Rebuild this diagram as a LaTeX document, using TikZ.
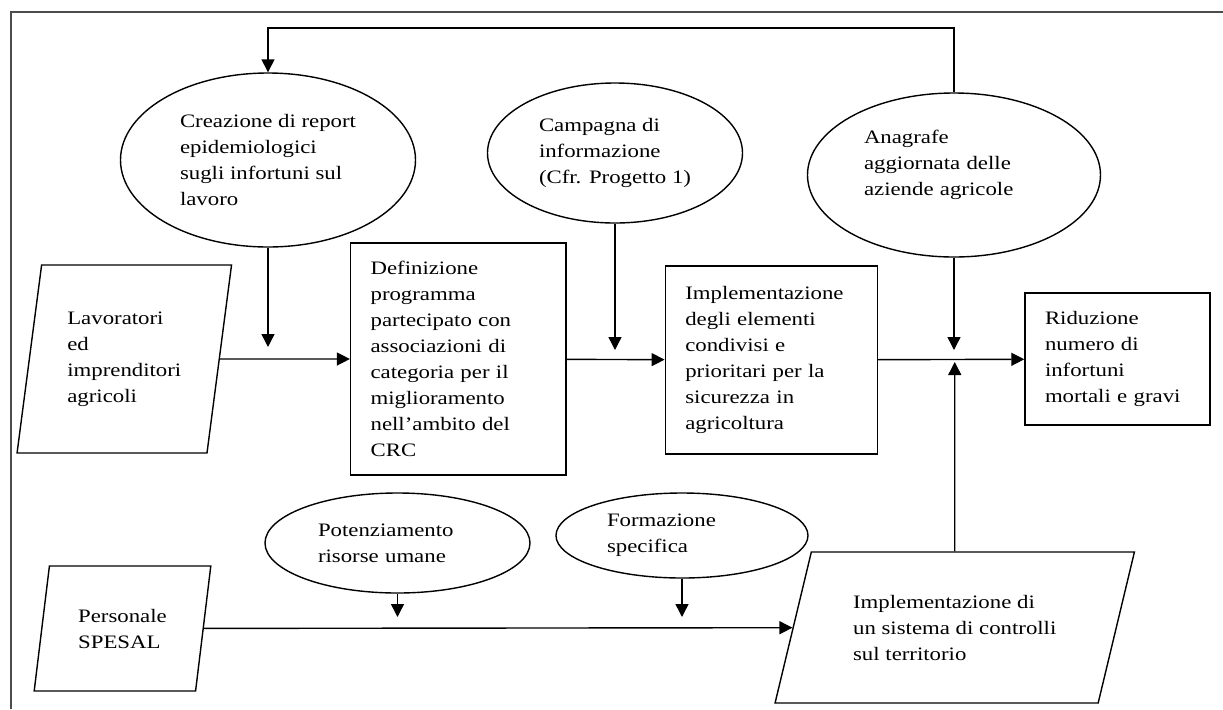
\documentclass[tikz,border=0pt]{standalone}
\usepackage{fontspec}
\setmainfont{Liberation Serif}[FakeStretch=1.2]
\usetikzlibrary{arrows.meta,shapes.geometric}

\tikzset{
    oval/.style={ellipse,draw,line width=0.7pt,inner sep=0pt,align=left},
    box/.style={rectangle,draw,line width=0.7pt,inner xsep=10pt,inner ysep=3pt,align=left},
    para/.style={trapezium,trapezium stretches=true,draw,line width=0.7pt,inner sep=2pt,align=left},
    arr/.style={line width=0.7pt,-{Triangle[length=6.5pt,width=6.5pt]}},
    frame/.style={line width=0.8pt,black!70}
}

\begin{document}
\begin{tikzpicture}[x=0.5pt,y=-0.5pt,font=\fontsize{9.5}{13}\selectfont]
        \useasboundingbox (0,0) rectangle (1223,709);
        \draw[frame] (10.7,709) |- (1223,12);

        \node[oval,minimum width=147.5pt,minimum height=87pt] (crea) at (268,160) {Creazione di report\\epidemiologici\\sugli infortuni sul\\lavoro};
        \node[oval,minimum width=127.5pt,minimum height=70pt] (camp) at (615,153) {Campagna di\\informazione\\(Cfr. Progetto 1)};
        \node[oval,minimum width=146.5pt,minimum height=82pt,text width=90pt,text depth=38pt] (anag) at (954,175) {Anagrafe\\aggiornata delle\\aziende agricole};

        \node[para,trapezium left angle=80,trapezium right angle=100,minimum width=107.7pt,minimum height=94pt] (lav) at (124.3,359) {Lavoratori\\ed\\imprenditori\\agricoli};
        \node[box,text width=87.7pt,minimum height=116pt] (def) at (458.3,359) {Definizione\\programma\\partecipato con\\associazioni di\\categoria per il\\miglioramento\\nell’ambito del\\CRC};
        \node[box,text width=86pt,minimum height=94pt] (impl) at (771.3,360) {Implementazione\\degli elementi\\condivisi e\\prioritari per la\\sicurezza in\\agricoltura};
        \node[box,text width=72.5pt,minimum height=66pt] (rid) at (1117.5,359) {Riduzione\\numero di\\infortuni\\mortali e gravi};

        \node[oval,minimum width=132.5pt,minimum height=50pt,text width=79.5pt] (pot) at (397.5,543) {Potenziamento\\risorse umane};
        \node[oval,minimum width=126pt,minimum height=42.5pt,text width=75pt] (form) at (682,535.5) {Formazione\\specifica};

        \node[para,trapezium left angle=78,trapezium right angle=102,minimum width=88.5pt,minimum height=62.5pt] (pers) at (122.5,628.5) {Personale\\SPESAL};
        \node[para,trapezium left angle=70,trapezium right angle=110,minimum width=179.75pt,minimum height=75.5pt] (ctrl) at (954.75,627.5) {Implementazione di\\un sistema di controlli\\sul territorio};

        \coordinate (loop) at (268,28);
        \coordinate (creatip) at (268,347);
        \coordinate (camptip) at (615,350);
        \coordinate (anagtip) at (954,350);
        \coordinate (ctrltip) at (954.75,362);
        \coordinate (pottip) at (397.5,617);
        \coordinate (formtip) at (682,617);

        \draw[arr] (anag.north) |- (loop) -- (crea.north);
        \draw[arr] (crea) -- (creatip);
        \draw[arr] (camp) -- (camptip);
        \draw[arr] (anag) -- (anagtip);
        \draw[arr] (lav) -- (def);
        \draw[arr] (def) -- (impl);
        \draw[arr] (impl) -- (rid);
        \draw[arr] (ctrl) -- (ctrltip);
        \draw[arr] (pot) -- (pottip);
        \draw[arr] (form) -- (formtip);
        \draw[arr] (pers) -- (ctrl);
\end{tikzpicture}
\end{document}
